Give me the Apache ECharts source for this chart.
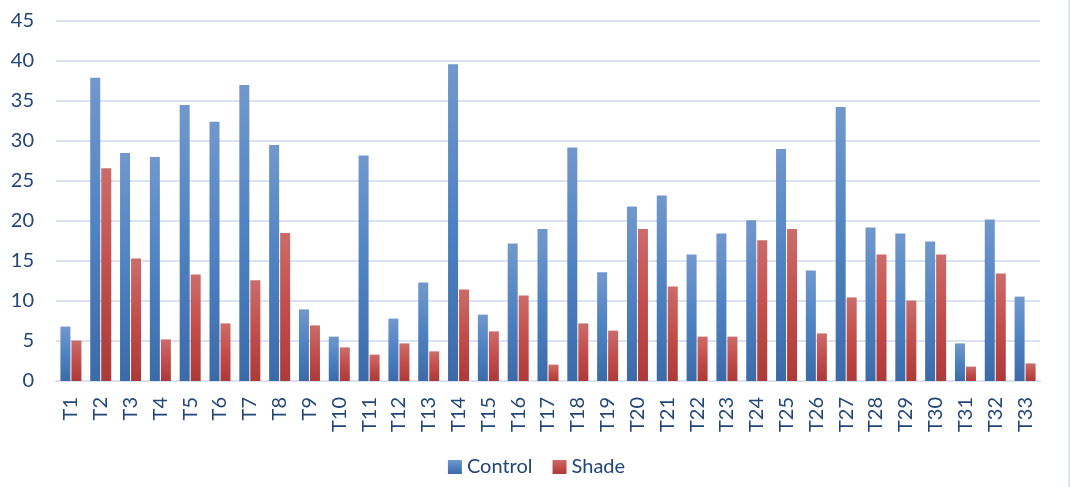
<!DOCTYPE html>
<html>
<head>
<meta charset="utf-8">
<script src="https://cdn.jsdelivr.net/npm/echarts@6/dist/echarts.min.js"></script>
<style>
  html, body { margin: 0; padding: 0; background: #ffffff; }
  #chart { width: 1073px; height: 487px; }
</style>
</head>
<body>
<div id="chart"></div>
<script>
// Treatment labels along the x axis
const categories = ['T1','T2','T3','T4','T5','T6','T7','T8','T9','T10','T11','T12','T13','T14','T15','T16','T17','T18','T19','T20','T21','T22','T23','T24','T25','T26','T27','T28','T29','T30','T31','T32','T33'];

// Measured values per treatment
const controlValues = [6.8, 37.9, 28.5, 28.0, 34.5, 32.4, 37.0, 29.5, 8.95, 5.55, 28.2, 7.8, 12.3, 39.6, 8.3, 17.2, 19.0, 29.2, 13.6, 21.8, 23.2, 15.8, 18.45, 20.1, 29.0, 13.8, 34.25, 19.2, 18.45, 17.45, 4.7, 20.2, 10.55];
const shadeValues = [5.05, 26.6, 15.3, 5.2, 13.3, 7.2, 12.6, 18.5, 6.95, 4.2, 3.3, 4.7, 3.7, 11.45, 6.2, 10.7, 2.05, 7.2, 6.3, 19.0, 11.8, 5.55, 5.55, 17.6, 19.0, 5.95, 10.45, 15.8, 10.05, 15.8, 1.8, 13.45, 2.2];

// Value axis ticks
const yTicks = [0, 5, 10, 15, 20, 25, 30, 35, 40, 45];

const textColor = '#224678';
const gridColor = '#d9e3f1';
const fontFamily = 'Lato, "Open Sans", sans-serif';
const fontSize = 20;

function barGradient(top, mid, bottom) {
  return new echarts.graphic.LinearGradient(0, 0, 0, 1, [
    { offset: 0, color: top },
    { offset: 0.5, color: mid },
    { offset: 1, color: bottom }
  ]);
}

const chart = echarts.init(document.getElementById('chart'), null, { renderer: 'canvas' });

chart.setOption({
  animation: false,
  backgroundColor: '#ffffff',
  grid: { left: 56, right: 33, top: 21, bottom: 106, containLabel: false },
  legend: {
    bottom: 5,
    left: 'center',
    itemWidth: 14,
    itemHeight: 14,
    itemGap: 20,
    icon: 'rect',
    textStyle: { color: textColor, fontSize: fontSize, fontFamily: fontFamily },
    data: ['Control', 'Shade']
  },
  xAxis: {
    type: 'category',
    data: categories,
    axisLine: { show: true, lineStyle: { color: gridColor, width: 2 } },
    axisTick: { show: false },
    axisLabel: {
      rotate: 90,
      margin: 16,
      interval: 0,
      color: textColor,
      fontSize: fontSize,
      fontFamily: fontFamily
    }
  },
  yAxis: {
    type: 'value',
    min: yTicks[0],
    max: yTicks[yTicks.length - 1],
    interval: 5,
    axisLine: { show: false },
    axisTick: { show: false },
    axisLabel: { margin: 22, color: textColor, fontSize: fontSize, fontFamily: fontFamily },
    splitLine: { show: true, lineStyle: { color: gridColor, width: 2 } }
  },
  series: [
    {
      name: 'Control',
      type: 'bar',
      data: controlValues,
      barWidth: 10,
      barGap: '10%',
      itemStyle: { color: barGradient('#7198cc', '#4f82c2', '#3b6aa8') }
    },
    {
      name: 'Shade',
      type: 'bar',
      data: shadeValues,
      barWidth: 10,
      barGap: '10%',
      itemStyle: { color: barGradient('#cb6c6a', '#c24e4b', '#ac3a38') }
    }
  ],
  graphic: [
    {
      type: 'rect',
      right: 3,
      top: 0,
      shape: { width: 2, height: 487 },
      style: { fill: '#dde7f3' }
    }
  ]
});
</script>
</body>
</html>
